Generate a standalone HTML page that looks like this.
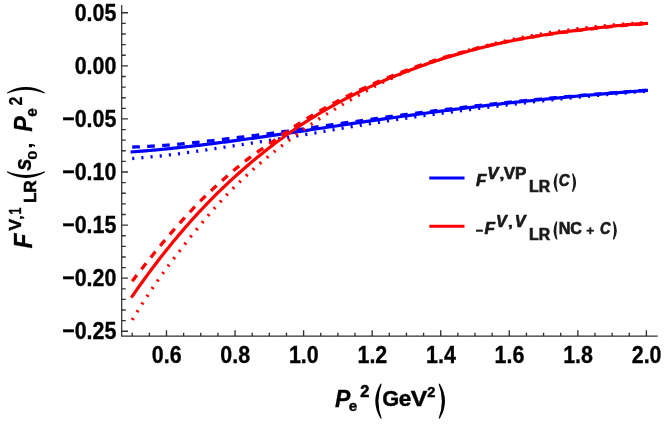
<!DOCTYPE html>
<html><head><meta charset="utf-8"><title>plot</title>
<style>
html,body{margin:0;padding:0;background:#fff;}
svg{display:block;will-change:transform;font-family:"Liberation Sans",sans-serif;font-weight:bold;}
.tl text{font-size:24.2px;fill:#000;stroke:#000;stroke-width:0.35px;}
</style></head>
<body>
<svg width="664" height="428" viewBox="0 0 664 428">
<rect width="664" height="428" fill="#fff"/>
<g fill="none" stroke-linejoin="round">
<path d="M132.20 151.87 L133.91 151.75 L135.63 151.62 L137.34 151.49 L139.06 151.35 L140.77 151.22 L142.48 151.08 L144.20 150.94 L145.91 150.79 L147.63 150.65 L149.34 150.50 L151.05 150.35 L152.77 150.20 L154.48 150.04 L156.20 149.88 L157.91 149.72 L159.62 149.56 L161.34 149.40 L163.05 149.23 L164.77 149.06 L166.48 148.89 L168.19 148.72 L169.91 148.54 L171.62 148.37 L173.34 148.19 L175.05 148.01 L176.76 147.82 L178.48 147.64 L180.19 147.45 L181.91 147.27 L183.62 147.08 L185.33 146.88 L187.05 146.69 L188.76 146.49 L190.48 146.30 L192.19 146.10 L193.90 145.90 L195.62 145.70 L197.33 145.49 L199.05 145.29 L200.76 145.08 L202.47 144.87 L204.19 144.66 L205.90 144.45 L207.62 144.24 L209.33 144.03 L211.04 143.81 L212.76 143.59 L214.47 143.38 L216.19 143.16 L217.90 142.94 L219.61 142.71 L221.33 142.49 L223.04 142.27 L224.76 142.04 L226.47 141.81 L228.18 141.59 L229.90 141.36 L231.61 141.13 L233.33 140.90 L235.04 140.67 L236.75 140.43 L238.47 140.20 L240.18 139.96 L241.90 139.73 L243.61 139.49 L245.32 139.25 L247.04 139.02 L248.75 138.78 L250.47 138.54 L252.18 138.30 L253.89 138.06 L255.61 137.81 L257.32 137.57 L259.04 137.33 L260.75 137.08 L262.46 136.84 L264.18 136.59 L265.89 136.34 L267.61 136.10 L269.32 135.85 L271.03 135.60 L272.75 135.35 L274.46 135.10 L276.18 134.86 L277.89 134.61 L279.60 134.35 L281.32 134.10 L283.03 133.85 L284.75 133.60 L286.46 133.35 L288.17 133.10 L289.89 132.84 L291.60 132.59 L293.32 132.34 L295.03 132.08 L296.74 131.83 L298.46 131.58 L300.17 131.32 L301.89 131.07 L303.60 130.81 L305.31 130.56 L307.03 130.30 L308.74 130.05 L310.46 129.79 L312.17 129.54 L313.88 129.28 L315.60 129.03 L317.31 128.77 L319.03 128.52 L320.74 128.26 L322.45 128.00 L324.17 127.75 L325.88 127.49 L327.60 127.24 L329.31 126.98 L331.02 126.73 L332.74 126.47 L334.45 126.22 L336.17 125.96 L337.88 125.71 L339.59 125.45 L341.31 125.20 L343.02 124.94 L344.74 124.69 L346.45 124.44 L348.16 124.18 L349.88 123.93 L351.59 123.68 L353.31 123.42 L355.02 123.17 L356.73 122.92 L358.45 122.67 L360.16 122.42 L361.88 122.17 L363.59 121.91 L365.30 121.66 L367.02 121.41 L368.73 121.16 L370.45 120.92 L372.16 120.67 L373.87 120.42 L375.59 120.17 L377.30 119.92 L379.02 119.68 L380.73 119.43 L382.44 119.18 L384.16 118.94 L385.87 118.69 L387.59 118.45 L389.30 118.20 L391.01 117.96 L392.73 117.72 L394.44 117.48 L396.16 117.23 L397.87 116.99 L399.58 116.75 L401.30 116.51 L403.01 116.27 L404.73 116.03 L406.44 115.80 L408.15 115.56 L409.87 115.32 L411.58 115.09 L413.30 114.85 L415.01 114.62 L416.72 114.38 L418.44 114.15 L420.15 113.92 L421.87 113.68 L423.58 113.45 L425.29 113.22 L427.01 112.99 L428.72 112.76 L430.44 112.53 L432.15 112.31 L433.86 112.08 L435.58 111.85 L437.29 111.63 L439.01 111.40 L440.72 111.18 L442.43 110.96 L444.15 110.74 L445.86 110.51 L447.58 110.29 L449.29 110.07 L451.00 109.85 L452.72 109.64 L454.43 109.42 L456.15 109.20 L457.86 108.99 L459.57 108.77 L461.29 108.56 L463.00 108.35 L464.72 108.13 L466.43 107.92 L468.14 107.71 L469.86 107.50 L471.57 107.29 L473.29 107.08 L475.00 106.88 L476.71 106.67 L478.43 106.47 L480.14 106.26 L481.86 106.06 L483.57 105.85 L485.28 105.65 L487.00 105.45 L488.71 105.25 L490.43 105.05 L492.14 104.85 L493.85 104.66 L495.57 104.46 L497.28 104.27 L499.00 104.07 L500.71 103.88 L502.42 103.68 L504.14 103.49 L505.85 103.30 L507.57 103.11 L509.28 102.92 L510.99 102.73 L512.71 102.55 L514.42 102.36 L516.14 102.17 L517.85 101.99 L519.56 101.81 L521.28 101.62 L522.99 101.44 L524.71 101.26 L526.42 101.08 L528.13 100.90 L529.85 100.72 L531.56 100.54 L533.28 100.37 L534.99 100.19 L536.70 100.02 L538.42 99.84 L540.13 99.67 L541.85 99.50 L543.56 99.33 L545.27 99.15 L546.99 98.98 L548.70 98.82 L550.42 98.65 L552.13 98.48 L553.84 98.31 L555.56 98.15 L557.27 97.98 L558.99 97.82 L560.70 97.66 L562.41 97.50 L564.13 97.34 L565.84 97.17 L567.56 97.02 L569.27 96.86 L570.98 96.70 L572.70 96.54 L574.41 96.38 L576.13 96.23 L577.84 96.07 L579.55 95.92 L581.27 95.77 L582.98 95.61 L584.70 95.46 L586.41 95.31 L588.12 95.16 L589.84 95.01 L591.55 94.86 L593.27 94.72 L594.98 94.57 L596.69 94.42 L598.41 94.28 L600.12 94.13 L601.84 93.99 L603.55 93.84 L605.26 93.70 L606.98 93.56 L608.69 93.41 L610.41 93.27 L612.12 93.13 L613.83 92.99 L615.55 92.85 L617.26 92.71 L618.98 92.58 L620.69 92.44 L622.40 92.30 L624.12 92.17 L625.83 92.03 L627.55 91.89 L629.26 91.76 L630.97 91.63 L632.69 91.49 L634.40 91.36 L636.12 91.23 L637.83 91.09 L639.54 90.96 L641.26 90.83 L642.97 90.70 L644.69 90.57 L646.40 90.44" stroke="#0000ff" stroke-width="3.2" stroke-linecap="square"/>
<path d="M132.20 147.05 L133.91 146.99 L135.63 146.92 L137.34 146.86 L139.06 146.78 L140.77 146.71 L142.48 146.63 L144.20 146.55 L145.91 146.46 L147.63 146.37 L149.34 146.28 L151.05 146.18 L152.77 146.09 L154.48 145.99 L156.20 145.89 L157.91 145.78 L159.62 145.68 L161.34 145.57 L163.05 145.45 L164.77 145.33 L166.48 145.21 L168.19 145.08 L169.91 144.94 L171.62 144.80 L173.34 144.66 L175.05 144.51 L176.76 144.36 L178.48 144.20 L180.19 144.04 L181.91 143.88 L183.62 143.72 L185.33 143.55 L187.05 143.38 L188.76 143.21 L190.48 143.04 L192.19 142.86 L193.90 142.68 L195.62 142.50 L197.33 142.32 L199.05 142.13 L200.76 141.95 L202.47 141.76 L204.19 141.56 L205.90 141.37 L207.62 141.17 L209.33 140.97 L211.04 140.77 L212.76 140.57 L214.47 140.37 L216.19 140.17 L217.90 139.96 L219.61 139.76 L221.33 139.55 L223.04 139.34 L224.76 139.14 L226.47 138.93 L228.18 138.72 L229.90 138.52 L231.61 138.31 L233.33 138.10 L235.04 137.89 L236.75 137.68 L238.47 137.47 L240.18 137.26 L241.90 137.05 L243.61 136.84 L245.32 136.62 L247.04 136.41 L248.75 136.19 L250.47 135.98 L252.18 135.76 L253.89 135.54 L255.61 135.32 L257.32 135.10 L259.04 134.88 L260.75 134.66 L262.46 134.44 L264.18 134.22 L265.89 134.00 L267.61 133.78 L269.32 133.55 L271.03 133.33 L272.75 133.11 L274.46 132.88 L276.18 132.65 L277.89 132.43 L279.60 132.20 L281.32 131.97 L283.03 131.73 L284.75 131.50 L286.46 131.26 L288.17 131.03 L289.89 130.79 L291.60 130.55 L293.32 130.31 L295.03 130.08 L296.74 129.84 L298.46 129.60 L300.17 129.36 L301.89 129.11 L303.60 128.87 L305.31 128.63 L307.03 128.39 L308.74 128.15 L310.46 127.90 L312.17 127.66 L313.88 127.41 L315.60 127.17 L317.31 126.93 L319.03 126.68 L320.74 126.44 L322.45 126.19 L324.17 125.94 L325.88 125.70 L327.60 125.45 L329.31 125.21 L331.02 124.96 L332.74 124.71 L334.45 124.46 L336.17 124.22 L337.88 123.97 L339.59 123.72 L341.31 123.48 L343.02 123.23 L344.74 122.98 L346.45 122.73 L348.16 122.49 L349.88 122.24 L351.59 121.99 L353.31 121.75 L355.02 121.50 L356.73 121.26 L358.45 121.01 L360.16 120.77 L361.88 120.53 L363.59 120.28 L365.30 120.04 L367.02 119.80 L368.73 119.56 L370.45 119.32 L372.16 119.08 L373.87 118.84 L375.59 118.60 L377.30 118.37 L379.02 118.13 L380.73 117.89 L382.44 117.66 L384.16 117.43 L385.87 117.19 L387.59 116.96 L389.30 116.73 L391.01 116.50 L392.73 116.27 L394.44 116.04 L396.16 115.81 L397.87 115.58 L399.58 115.35 L401.30 115.12 L403.01 114.90 L404.73 114.67 L406.44 114.44 L408.15 114.22 L409.87 114.00 L411.58 113.77 L413.30 113.55 L415.01 113.33 L416.72 113.11 L418.44 112.89 L420.15 112.67 L421.87 112.45 L423.58 112.24 L425.29 112.02 L427.01 111.80 L428.72 111.59 L430.44 111.37 L432.15 111.16 L433.86 110.94 L435.58 110.73 L437.29 110.51 L439.01 110.30 L440.72 110.08 L442.43 109.87 L444.15 109.66 L445.86 109.45 L447.58 109.24 L449.29 109.02 L451.00 108.81 L452.72 108.61 L454.43 108.40 L456.15 108.19 L457.86 107.98 L459.57 107.77 L461.29 107.57 L463.00 107.36 L464.72 107.16 L466.43 106.95 L468.14 106.75 L469.86 106.55 L471.57 106.35 L473.29 106.15 L475.00 105.95 L476.71 105.75 L478.43 105.56 L480.14 105.36 L481.86 105.17 L483.57 104.97 L485.28 104.78 L487.00 104.59 L488.71 104.40 L490.43 104.21 L492.14 104.02 L493.85 103.84 L495.57 103.65 L497.28 103.46 L499.00 103.28 L500.71 103.10 L502.42 102.91 L504.14 102.73 L505.85 102.55 L507.57 102.37 L509.28 102.19 L510.99 102.02 L512.71 101.84 L514.42 101.66 L516.14 101.49 L517.85 101.31 L519.56 101.14 L521.28 100.97 L522.99 100.80 L524.71 100.63 L526.42 100.46 L528.13 100.29 L529.85 100.12 L531.56 99.95 L533.28 99.78 L534.99 99.62 L536.70 99.45 L538.42 99.29 L540.13 99.12 L541.85 98.96 L543.56 98.80 L545.27 98.63 L546.99 98.47 L548.70 98.31 L550.42 98.15 L552.13 97.99 L553.84 97.83 L555.56 97.67 L557.27 97.52 L558.99 97.36 L560.70 97.20 L562.41 97.05 L564.13 96.90 L565.84 96.74 L567.56 96.59 L569.27 96.44 L570.98 96.29 L572.70 96.14 L574.41 95.99 L576.13 95.84 L577.84 95.69 L579.55 95.54 L581.27 95.40 L582.98 95.25 L584.70 95.11 L586.41 94.96 L588.12 94.82 L589.84 94.67 L591.55 94.53 L593.27 94.39 L594.98 94.25 L596.69 94.11 L598.41 93.97 L600.12 93.83 L601.84 93.69 L603.55 93.55 L605.26 93.41 L606.98 93.27 L608.69 93.14 L610.41 93.00 L612.12 92.86 L613.83 92.73 L615.55 92.59 L617.26 92.46 L618.98 92.32 L620.69 92.19 L622.40 92.06 L624.12 91.92 L625.83 91.79 L627.55 91.66 L629.26 91.53 L630.97 91.40 L632.69 91.27 L634.40 91.14 L636.12 91.01 L637.83 90.88 L639.54 90.75 L641.26 90.62 L642.97 90.49 L644.69 90.36 L646.40 90.23" stroke="#0000ff" stroke-width="3.3" stroke-dasharray="7.6 7.4"/>
<path d="M132.20 158.56 L133.91 158.43 L135.63 158.29 L137.34 158.15 L139.06 158.00 L140.77 157.85 L142.48 157.70 L144.20 157.54 L145.91 157.38 L147.63 157.22 L149.34 157.06 L151.05 156.89 L152.77 156.71 L154.48 156.54 L156.20 156.36 L157.91 156.18 L159.62 156.00 L161.34 155.81 L163.05 155.62 L164.77 155.43 L166.48 155.24 L168.19 155.04 L169.91 154.84 L171.62 154.64 L173.34 154.44 L175.05 154.23 L176.76 154.01 L178.48 153.79 L180.19 153.57 L181.91 153.35 L183.62 153.12 L185.33 152.89 L187.05 152.65 L188.76 152.42 L190.48 152.18 L192.19 151.94 L193.90 151.70 L195.62 151.45 L197.33 151.21 L199.05 150.96 L200.76 150.72 L202.47 150.47 L204.19 150.22 L205.90 149.97 L207.62 149.73 L209.33 149.48 L211.04 149.23 L212.76 148.98 L214.47 148.73 L216.19 148.47 L217.90 148.22 L219.61 147.96 L221.33 147.70 L223.04 147.45 L224.76 147.19 L226.47 146.93 L228.18 146.67 L229.90 146.41 L231.61 146.15 L233.33 145.88 L235.04 145.62 L236.75 145.36 L238.47 145.10 L240.18 144.84 L241.90 144.57 L243.61 144.31 L245.32 144.05 L247.04 143.79 L248.75 143.53 L250.47 143.27 L252.18 143.01 L253.89 142.74 L255.61 142.48 L257.32 142.22 L259.04 141.96 L260.75 141.70 L262.46 141.44 L264.18 141.17 L265.89 140.91 L267.61 140.64 L269.32 140.38 L271.03 140.11 L272.75 139.84 L274.46 139.58 L276.18 139.31 L277.89 139.03 L279.60 138.76 L281.32 138.49 L283.03 138.21 L284.75 137.93 L286.46 137.65 L288.17 137.37 L289.89 137.09 L291.60 136.81 L293.32 136.53 L295.03 136.25 L296.74 135.96 L298.46 135.68 L300.17 135.39 L301.89 135.11 L303.60 134.82 L305.31 134.53 L307.03 134.25 L308.74 133.96 L310.46 133.67 L312.17 133.38 L313.88 133.09 L315.60 132.81 L317.31 132.52 L319.03 132.23 L320.74 131.94 L322.45 131.65 L324.17 131.36 L325.88 131.08 L327.60 130.79 L329.31 130.50 L331.02 130.21 L332.74 129.92 L334.45 129.63 L336.17 129.33 L337.88 129.04 L339.59 128.75 L341.31 128.46 L343.02 128.17 L344.74 127.88 L346.45 127.59 L348.16 127.30 L349.88 127.01 L351.59 126.72 L353.31 126.44 L355.02 126.16 L356.73 125.87 L358.45 125.59 L360.16 125.31 L361.88 125.04 L363.59 124.76 L365.30 124.48 L367.02 124.21 L368.73 123.93 L370.45 123.66 L372.16 123.38 L373.87 123.11 L375.59 122.84 L377.30 122.57 L379.02 122.30 L380.73 122.03 L382.44 121.76 L384.16 121.49 L385.87 121.23 L387.59 120.96 L389.30 120.70 L391.01 120.44 L392.73 120.18 L394.44 119.92 L396.16 119.66 L397.87 119.41 L399.58 119.16 L401.30 118.90 L403.01 118.65 L404.73 118.40 L406.44 118.15 L408.15 117.91 L409.87 117.66 L411.58 117.42 L413.30 117.17 L415.01 116.93 L416.72 116.69 L418.44 116.44 L420.15 116.20 L421.87 115.96 L423.58 115.73 L425.29 115.49 L427.01 115.25 L428.72 115.01 L430.44 114.78 L432.15 114.54 L433.86 114.31 L435.58 114.08 L437.29 113.84 L439.01 113.61 L440.72 113.38 L442.43 113.15 L444.15 112.91 L445.86 112.69 L447.58 112.46 L449.29 112.23 L451.00 112.00 L452.72 111.78 L454.43 111.55 L456.15 111.33 L457.86 111.10 L459.57 110.88 L461.29 110.66 L463.00 110.44 L464.72 110.22 L466.43 110.00 L468.14 109.78 L469.86 109.56 L471.57 109.34 L473.29 109.12 L475.00 108.91 L476.71 108.69 L478.43 108.48 L480.14 108.26 L481.86 108.05 L483.57 107.83 L485.28 107.62 L487.00 107.41 L488.71 107.19 L490.43 106.98 L492.14 106.77 L493.85 106.56 L495.57 106.35 L497.28 106.14 L499.00 105.93 L500.71 105.72 L502.42 105.51 L504.14 105.31 L505.85 105.10 L507.57 104.89 L509.28 104.69 L510.99 104.48 L512.71 104.28 L514.42 104.08 L516.14 103.88 L517.85 103.68 L519.56 103.48 L521.28 103.28 L522.99 103.08 L524.71 102.88 L526.42 102.69 L528.13 102.49 L529.85 102.30 L531.56 102.10 L533.28 101.91 L534.99 101.72 L536.70 101.53 L538.42 101.34 L540.13 101.15 L541.85 100.96 L543.56 100.78 L545.27 100.59 L546.99 100.41 L548.70 100.23 L550.42 100.04 L552.13 99.86 L553.84 99.68 L555.56 99.51 L557.27 99.33 L558.99 99.15 L560.70 98.97 L562.41 98.80 L564.13 98.62 L565.84 98.45 L567.56 98.27 L569.27 98.10 L570.98 97.93 L572.70 97.76 L574.41 97.59 L576.13 97.42 L577.84 97.25 L579.55 97.08 L581.27 96.92 L582.98 96.75 L584.70 96.59 L586.41 96.42 L588.12 96.26 L589.84 96.10 L591.55 95.93 L593.27 95.77 L594.98 95.61 L596.69 95.46 L598.41 95.30 L600.12 95.14 L601.84 94.99 L603.55 94.83 L605.26 94.68 L606.98 94.52 L608.69 94.37 L610.41 94.22 L612.12 94.07 L613.83 93.92 L615.55 93.77 L617.26 93.63 L618.98 93.48 L620.69 93.34 L622.40 93.19 L624.12 93.05 L625.83 92.91 L627.55 92.76 L629.26 92.62 L630.97 92.48 L632.69 92.34 L634.40 92.20 L636.12 92.06 L637.83 91.93 L639.54 91.79 L641.26 91.65 L642.97 91.52 L644.69 91.38 L646.40 91.25" stroke="#0000ff" stroke-width="3.3" stroke-dasharray="2.1 7.1"/>
<path d="M132.20 296.32 L133.91 293.81 L135.63 291.33 L137.34 288.88 L139.06 286.46 L140.77 284.06 L142.48 281.69 L144.20 279.33 L145.91 276.99 L147.63 274.66 L149.34 272.35 L151.05 270.04 L152.77 267.75 L154.48 265.48 L156.20 263.22 L157.91 260.98 L159.62 258.76 L161.34 256.55 L163.05 254.37 L164.77 252.19 L166.48 250.04 L168.19 247.90 L169.91 245.77 L171.62 243.67 L173.34 241.58 L175.05 239.50 L176.76 237.44 L178.48 235.40 L180.19 233.38 L181.91 231.37 L183.62 229.37 L185.33 227.40 L187.05 225.43 L188.76 223.49 L190.48 221.56 L192.19 219.64 L193.90 217.74 L195.62 215.86 L197.33 213.99 L199.05 212.14 L200.76 210.30 L202.47 208.48 L204.19 206.67 L205.90 204.88 L207.62 203.10 L209.33 201.34 L211.04 199.59 L212.76 197.86 L214.47 196.14 L216.19 194.44 L217.90 192.74 L219.61 191.07 L221.33 189.40 L223.04 187.75 L224.76 186.11 L226.47 184.49 L228.18 182.88 L229.90 181.28 L231.61 179.69 L233.33 178.12 L235.04 176.56 L236.75 175.01 L238.47 173.47 L240.18 171.95 L241.90 170.43 L243.61 168.93 L245.32 167.44 L247.04 165.96 L248.75 164.49 L250.47 163.03 L252.18 161.59 L253.89 160.15 L255.61 158.73 L257.32 157.32 L259.04 155.92 L260.75 154.53 L262.46 153.15 L264.18 151.78 L265.89 150.43 L267.61 149.08 L269.32 147.75 L271.03 146.43 L272.75 145.11 L274.46 143.81 L276.18 142.52 L277.89 141.24 L279.60 139.97 L281.32 138.72 L283.03 137.47 L284.75 136.23 L286.46 135.01 L288.17 133.79 L289.89 132.59 L291.60 131.39 L293.32 130.21 L295.03 129.03 L296.74 127.87 L298.46 126.72 L300.17 125.57 L301.89 124.44 L303.60 123.32 L305.31 122.21 L307.03 121.11 L308.74 120.02 L310.46 118.94 L312.17 117.87 L313.88 116.81 L315.60 115.76 L317.31 114.72 L319.03 113.69 L320.74 112.67 L322.45 111.66 L324.17 110.66 L325.88 109.66 L327.60 108.67 L329.31 107.70 L331.02 106.73 L332.74 105.77 L334.45 104.81 L336.17 103.87 L337.88 102.93 L339.59 102.00 L341.31 101.08 L343.02 100.17 L344.74 99.26 L346.45 98.36 L348.16 97.48 L349.88 96.59 L351.59 95.72 L353.31 94.86 L355.02 94.00 L356.73 93.15 L358.45 92.31 L360.16 91.48 L361.88 90.65 L363.59 89.83 L365.30 89.02 L367.02 88.22 L368.73 87.42 L370.45 86.64 L372.16 85.85 L373.87 85.08 L375.59 84.31 L377.30 83.55 L379.02 82.80 L380.73 82.05 L382.44 81.31 L384.16 80.57 L385.87 79.84 L387.59 79.12 L389.30 78.40 L391.01 77.68 L392.73 76.97 L394.44 76.27 L396.16 75.57 L397.87 74.88 L399.58 74.19 L401.30 73.51 L403.01 72.83 L404.73 72.16 L406.44 71.50 L408.15 70.84 L409.87 70.18 L411.58 69.54 L413.30 68.89 L415.01 68.26 L416.72 67.62 L418.44 67.00 L420.15 66.38 L421.87 65.76 L423.58 65.15 L425.29 64.55 L427.01 63.96 L428.72 63.36 L430.44 62.78 L432.15 62.20 L433.86 61.63 L435.58 61.06 L437.29 60.49 L439.01 59.94 L440.72 59.38 L442.43 58.84 L444.15 58.29 L445.86 57.75 L447.58 57.22 L449.29 56.69 L451.00 56.17 L452.72 55.65 L454.43 55.14 L456.15 54.63 L457.86 54.13 L459.57 53.63 L461.29 53.14 L463.00 52.65 L464.72 52.17 L466.43 51.69 L468.14 51.22 L469.86 50.75 L471.57 50.29 L473.29 49.83 L475.00 49.38 L476.71 48.93 L478.43 48.49 L480.14 48.05 L481.86 47.61 L483.57 47.19 L485.28 46.76 L487.00 46.34 L488.71 45.93 L490.43 45.52 L492.14 45.11 L493.85 44.71 L495.57 44.31 L497.28 43.92 L499.00 43.53 L500.71 43.15 L502.42 42.77 L504.14 42.40 L505.85 42.03 L507.57 41.66 L509.28 41.30 L510.99 40.95 L512.71 40.60 L514.42 40.25 L516.14 39.91 L517.85 39.57 L519.56 39.24 L521.28 38.91 L522.99 38.59 L524.71 38.27 L526.42 37.95 L528.13 37.64 L529.85 37.33 L531.56 37.03 L533.28 36.73 L534.99 36.43 L536.70 36.14 L538.42 35.85 L540.13 35.57 L541.85 35.29 L543.56 35.01 L545.27 34.74 L546.99 34.47 L548.70 34.21 L550.42 33.94 L552.13 33.68 L553.84 33.43 L555.56 33.18 L557.27 32.93 L558.99 32.68 L560.70 32.44 L562.41 32.20 L564.13 31.97 L565.84 31.73 L567.56 31.50 L569.27 31.28 L570.98 31.05 L572.70 30.83 L574.41 30.61 L576.13 30.40 L577.84 30.18 L579.55 29.97 L581.27 29.77 L582.98 29.56 L584.70 29.35 L586.41 29.14 L588.12 28.93 L589.84 28.73 L591.55 28.52 L593.27 28.32 L594.98 28.11 L596.69 27.91 L598.41 27.71 L600.12 27.51 L601.84 27.31 L603.55 27.12 L605.26 26.92 L606.98 26.73 L608.69 26.54 L610.41 26.36 L612.12 26.18 L613.83 26.00 L615.55 25.82 L617.26 25.65 L618.98 25.48 L620.69 25.32 L622.40 25.16 L624.12 25.01 L625.83 24.86 L627.55 24.71 L629.26 24.57 L630.97 24.43 L632.69 24.31 L634.40 24.18 L636.12 24.06 L637.83 23.95 L639.54 23.85 L641.26 23.75 L642.97 23.65 L644.69 23.56 L646.40 23.46" stroke="#ff0000" stroke-width="3.2" stroke-linecap="square"/>
<path d="M132.20 281.16 L133.91 278.90 L135.63 276.67 L137.34 274.46 L139.06 272.27 L140.77 270.09 L142.48 267.92 L144.20 265.75 L145.91 263.59 L147.63 261.43 L149.34 259.27 L151.05 257.11 L152.77 254.96 L154.48 252.83 L156.20 250.71 L157.91 248.61 L159.62 246.53 L161.34 244.47 L163.05 242.43 L164.77 240.40 L166.48 238.39 L168.19 236.39 L169.91 234.40 L171.62 232.41 L173.34 230.43 L175.05 228.46 L176.76 226.50 L178.48 224.55 L180.19 222.61 L181.91 220.69 L183.62 218.79 L185.33 216.90 L187.05 215.02 L188.76 213.17 L190.48 211.33 L192.19 209.51 L193.90 207.70 L195.62 205.91 L197.33 204.13 L199.05 202.38 L200.76 200.65 L202.47 198.95 L204.19 197.27 L205.90 195.61 L207.62 193.96 L209.33 192.34 L211.04 190.72 L212.76 189.12 L214.47 187.52 L216.19 185.94 L217.90 184.38 L219.61 182.82 L221.33 181.28 L223.04 179.76 L224.76 178.24 L226.47 176.73 L228.18 175.23 L229.90 173.74 L231.61 172.26 L233.33 170.80 L235.04 169.35 L236.75 167.91 L238.47 166.49 L240.18 165.09 L241.90 163.70 L243.61 162.33 L245.32 160.98 L247.04 159.65 L248.75 158.36 L250.47 157.09 L252.18 155.84 L253.89 154.60 L255.61 153.37 L257.32 152.15 L259.04 150.95 L260.75 149.76 L262.46 148.58 L264.18 147.40 L265.89 146.23 L267.61 145.05 L269.32 143.86 L271.03 142.69 L272.75 141.52 L274.46 140.36 L276.18 139.19 L277.89 138.02 L279.60 136.83 L281.32 135.62 L283.03 134.41 L284.75 133.21 L286.46 132.00 L288.17 130.81 L289.89 129.62 L291.60 128.45 L293.32 127.29 L295.03 126.15 L296.74 125.03 L298.46 123.92 L300.17 122.82 L301.89 121.74 L303.60 120.66 L305.31 119.60 L307.03 118.54 L308.74 117.49 L310.46 116.44 L312.17 115.41 L313.88 114.39 L315.60 113.38 L317.31 112.38 L319.03 111.39 L320.74 110.40 L322.45 109.43 L324.17 108.46 L325.88 107.50 L327.60 106.54 L329.31 105.60 L331.02 104.66 L332.74 103.73 L334.45 102.80 L336.17 101.89 L337.88 100.97 L339.59 100.07 L341.31 99.17 L343.02 98.29 L344.74 97.40 L346.45 96.53 L348.16 95.67 L349.88 94.81 L351.59 93.96 L353.31 93.11 L355.02 92.28 L356.73 91.45 L358.45 90.63 L360.16 89.82 L361.88 89.01 L363.59 88.21 L365.30 87.42 L367.02 86.64 L368.73 85.86 L370.45 85.09 L372.16 84.32 L373.87 83.57 L375.59 82.82 L377.30 82.08 L379.02 81.34 L380.73 80.61 L382.44 79.88 L384.16 79.16 L385.87 78.45 L387.59 77.74 L389.30 77.03 L391.01 76.33 L392.73 75.64 L394.44 74.95 L396.16 74.27 L397.87 73.59 L399.58 72.92 L401.30 72.25 L403.01 71.59 L404.73 70.93 L406.44 70.28 L408.15 69.63 L409.87 68.99 L411.58 68.36 L413.30 67.73 L415.01 67.11 L416.72 66.49 L418.44 65.88 L420.15 65.28 L421.87 64.68 L423.58 64.09 L425.29 63.50 L427.01 62.92 L428.72 62.35 L430.44 61.78 L432.15 61.22 L433.86 60.66 L435.58 60.11 L437.29 59.57 L439.01 59.03 L440.72 58.49 L442.43 57.96 L444.15 57.43 L445.86 56.91 L447.58 56.40 L449.29 55.89 L451.00 55.38 L452.72 54.88 L454.43 54.39 L456.15 53.90 L457.86 53.41 L459.57 52.93 L461.29 52.45 L463.00 51.98 L464.72 51.52 L466.43 51.06 L468.14 50.60 L469.86 50.15 L471.57 49.71 L473.29 49.27 L475.00 48.83 L476.71 48.40 L478.43 47.97 L480.14 47.55 L481.86 47.14 L483.57 46.72 L485.28 46.32 L487.00 45.91 L488.71 45.52 L490.43 45.12 L492.14 44.73 L493.85 44.35 L495.57 43.97 L497.28 43.59 L499.00 43.22 L500.71 42.86 L502.42 42.49 L504.14 42.14 L505.85 41.79 L507.57 41.44 L509.28 41.10 L510.99 40.76 L512.71 40.43 L514.42 40.10 L516.14 39.78 L517.85 39.46 L519.56 39.15 L521.28 38.84 L522.99 38.54 L524.71 38.23 L526.42 37.94 L528.13 37.64 L529.85 37.36 L531.56 37.07 L533.28 36.79 L534.99 36.51 L536.70 36.23 L538.42 35.96 L540.13 35.69 L541.85 35.43 L543.56 35.17 L545.27 34.91 L546.99 34.65 L548.70 34.40 L550.42 34.15 L552.13 33.90 L553.84 33.65 L555.56 33.41 L557.27 33.17 L558.99 32.93 L560.70 32.69 L562.41 32.46 L564.13 32.23 L565.84 32.00 L567.56 31.78 L569.27 31.55 L570.98 31.33 L572.70 31.12 L574.41 30.90 L576.13 30.69 L577.84 30.48 L579.55 30.28 L581.27 30.07 L582.98 29.87 L584.70 29.67 L586.41 29.46 L588.12 29.26 L589.84 29.06 L591.55 28.85 L593.27 28.65 L594.98 28.45 L596.69 28.25 L598.41 28.05 L600.12 27.86 L601.84 27.66 L603.55 27.47 L605.26 27.28 L606.98 27.09 L608.69 26.91 L610.41 26.73 L612.12 26.55 L613.83 26.37 L615.55 26.20 L617.26 26.03 L618.98 25.86 L620.69 25.70 L622.40 25.54 L624.12 25.39 L625.83 25.24 L627.55 25.10 L629.26 24.96 L630.97 24.83 L632.69 24.70 L634.40 24.58 L636.12 24.46 L637.83 24.35 L639.54 24.24 L641.26 24.14 L642.97 24.05 L644.69 23.95 L646.40 23.86" stroke="#ff0000" stroke-width="3.3" stroke-dasharray="7.6 7.4"/>
<path d="M132.20 319.92 L133.91 317.10 L135.63 314.30 L137.34 311.53 L139.06 308.79 L140.77 306.08 L142.48 303.40 L144.20 300.74 L145.91 298.11 L147.63 295.50 L149.34 292.91 L151.05 290.34 L152.77 287.80 L154.48 285.28 L156.20 282.79 L157.91 280.33 L159.62 277.88 L161.34 275.47 L163.05 273.09 L164.77 270.73 L166.48 268.40 L168.19 266.08 L169.91 263.78 L171.62 261.50 L173.34 259.23 L175.05 256.96 L176.76 254.70 L178.48 252.45 L180.19 250.22 L181.91 248.00 L183.62 245.79 L185.33 243.59 L187.05 241.41 L188.76 239.24 L190.48 237.08 L192.19 234.94 L193.90 232.81 L195.62 230.70 L197.33 228.59 L199.05 226.49 L200.76 224.40 L202.47 222.32 L204.19 220.26 L205.90 218.21 L207.62 216.17 L209.33 214.16 L211.04 212.16 L212.76 210.19 L214.47 208.24 L216.19 206.31 L217.90 204.40 L219.61 202.50 L221.33 200.62 L223.04 198.76 L224.76 196.92 L226.47 195.11 L228.18 193.32 L229.90 191.56 L231.61 189.83 L233.33 188.12 L235.04 186.42 L236.75 184.74 L238.47 183.08 L240.18 181.43 L241.90 179.80 L243.61 178.19 L245.32 176.59 L247.04 175.01 L248.75 173.44 L250.47 171.89 L252.18 170.34 L253.89 168.82 L255.61 167.30 L257.32 165.80 L259.04 164.31 L260.75 162.83 L262.46 161.37 L264.18 159.92 L265.89 158.48 L267.61 157.06 L269.32 155.65 L271.03 154.25 L272.75 152.87 L274.46 151.50 L276.18 150.14 L277.89 148.79 L279.60 147.45 L281.32 146.12 L283.03 144.80 L284.75 143.48 L286.46 142.18 L288.17 140.88 L289.89 139.59 L291.60 138.31 L293.32 137.04 L295.03 135.77 L296.74 134.51 L298.46 133.26 L300.17 132.02 L301.89 130.79 L303.60 129.56 L305.31 128.35 L307.03 127.14 L308.74 125.95 L310.46 124.76 L312.17 123.59 L313.88 122.42 L315.60 121.27 L317.31 120.13 L319.03 119.00 L320.74 117.88 L322.45 116.78 L324.17 115.69 L325.88 114.61 L327.60 113.54 L329.31 112.48 L331.02 111.43 L332.74 110.39 L334.45 109.36 L336.17 108.33 L337.88 107.31 L339.59 106.29 L341.31 105.29 L343.02 104.28 L344.74 103.28 L346.45 102.28 L348.16 101.28 L349.88 100.28 L351.59 99.29 L353.31 98.29 L355.02 97.31 L356.73 96.33 L358.45 95.36 L360.16 94.39 L361.88 93.43 L363.59 92.48 L365.30 91.52 L367.02 90.57 L368.73 89.63 L370.45 88.70 L372.16 87.79 L373.87 86.89 L375.59 86.01 L377.30 85.14 L379.02 84.29 L380.73 83.45 L382.44 82.61 L384.16 81.79 L385.87 80.97 L387.59 80.17 L389.30 79.37 L391.01 78.59 L392.73 77.81 L394.44 77.04 L396.16 76.28 L397.87 75.53 L399.58 74.80 L401.30 74.07 L403.01 73.34 L404.73 72.63 L406.44 71.92 L408.15 71.22 L409.87 70.53 L411.58 69.85 L413.30 69.17 L415.01 68.50 L416.72 67.83 L418.44 67.17 L420.15 66.52 L421.87 65.87 L423.58 65.24 L425.29 64.60 L427.01 63.97 L428.72 63.35 L430.44 62.74 L432.15 62.12 L433.86 61.52 L435.58 60.92 L437.29 60.32 L439.01 59.73 L440.72 59.15 L442.43 58.57 L444.15 57.99 L445.86 57.42 L447.58 56.85 L449.29 56.29 L451.00 55.73 L452.72 55.18 L454.43 54.63 L456.15 54.08 L457.86 53.54 L459.57 53.00 L461.29 52.47 L463.00 51.94 L464.72 51.42 L466.43 50.91 L468.14 50.40 L469.86 49.90 L471.57 49.40 L473.29 48.91 L475.00 48.43 L476.71 47.95 L478.43 47.48 L480.14 47.02 L481.86 46.57 L483.57 46.12 L485.28 45.68 L487.00 45.24 L488.71 44.81 L490.43 44.38 L492.14 43.96 L493.85 43.54 L495.57 43.13 L497.28 42.72 L499.00 42.32 L500.71 41.92 L502.42 41.53 L504.14 41.14 L505.85 40.76 L507.57 40.38 L509.28 40.01 L510.99 39.64 L512.71 39.28 L514.42 38.92 L516.14 38.57 L517.85 38.22 L519.56 37.87 L521.28 37.53 L522.99 37.20 L524.71 36.87 L526.42 36.55 L528.13 36.23 L529.85 35.91 L531.56 35.60 L533.28 35.29 L534.99 34.99 L536.70 34.69 L538.42 34.40 L540.13 34.11 L541.85 33.83 L543.56 33.55 L545.27 33.27 L546.99 33.00 L548.70 32.73 L550.42 32.46 L552.13 32.20 L553.84 31.95 L555.56 31.69 L557.27 31.44 L558.99 31.20 L560.70 30.95 L562.41 30.72 L564.13 30.48 L565.84 30.25 L567.56 30.02 L569.27 29.79 L570.98 29.57 L572.70 29.35 L574.41 29.13 L576.13 28.92 L577.84 28.71 L579.55 28.51 L581.27 28.30 L582.98 28.10 L584.70 27.90 L586.41 27.70 L588.12 27.51 L589.84 27.32 L591.55 27.13 L593.27 26.94 L594.98 26.76 L596.69 26.58 L598.41 26.40 L600.12 26.22 L601.84 26.05 L603.55 25.88 L605.26 25.71 L606.98 25.54 L608.69 25.38 L610.41 25.22 L612.12 25.06 L613.83 24.91 L615.55 24.75 L617.26 24.61 L618.98 24.46 L620.69 24.32 L622.40 24.18 L624.12 24.04 L625.83 23.91 L627.55 23.78 L629.26 23.65 L630.97 23.53 L632.69 23.41 L634.40 23.29 L636.12 23.18 L637.83 23.07 L639.54 22.96 L641.26 22.86 L642.97 22.76 L644.69 22.66 L646.40 22.57" stroke="#ff0000" stroke-width="3.3" stroke-dasharray="2.1 7.1"/>
</g>
<g fill="none" stroke="#303030">
<path d="M121.7 5V336.2H657.7" stroke-width="1.25"/>
<path d="M121.70 331.27h6.3M121.70 320.66h4.0M121.70 310.04h4.0M121.70 299.42h4.0M121.70 288.81h4.0M121.70 278.19h6.3M121.70 267.57h4.0M121.70 256.96h4.0M121.70 246.34h4.0M121.70 235.72h4.0M121.70 225.10h6.3M121.70 214.49h4.0M121.70 203.87h4.0M121.70 193.25h4.0M121.70 182.64h4.0M121.70 172.02h6.3M121.70 161.40h4.0M121.70 150.79h4.0M121.70 140.17h4.0M121.70 129.55h4.0M121.70 118.94h6.3M121.70 108.32h4.0M121.70 97.70h4.0M121.70 87.08h4.0M121.70 76.47h4.0M121.70 65.85h6.3M121.70 55.23h4.0M121.70 44.62h4.0M121.70 34.00h4.0M121.70 23.38h4.0M121.70 12.76h6.3M132.20 336.20v-3.4M149.34 336.20v-3.4M166.48 336.20v-6.0M183.62 336.20v-3.4M200.76 336.20v-3.4M217.90 336.20v-3.4M235.04 336.20v-6.0M252.18 336.20v-3.4M269.32 336.20v-3.4M286.46 336.20v-3.4M303.60 336.20v-6.0M320.74 336.20v-3.4M337.88 336.20v-3.4M355.02 336.20v-3.4M372.16 336.20v-6.0M389.30 336.20v-3.4M406.44 336.20v-3.4M423.58 336.20v-3.4M440.72 336.20v-6.0M457.86 336.20v-3.4M475.00 336.20v-3.4M492.14 336.20v-3.4M509.28 336.20v-6.0M526.42 336.20v-3.4M543.56 336.20v-3.4M560.70 336.20v-3.4M577.84 336.20v-6.0M594.98 336.20v-3.4M612.12 336.20v-3.4M629.26 336.20v-3.4M646.40 336.20v-6.0" stroke-width="1.35"/>
</g>
<g class="tl"><text transform="translate(116.35 339.43) scale(0.885 1)" text-anchor="end">−0.25</text><text transform="translate(116.35 286.34) scale(0.885 1)" text-anchor="end">−0.20</text><text transform="translate(116.35 233.25) scale(0.885 1)" text-anchor="end">−0.15</text><text transform="translate(116.35 180.17) scale(0.885 1)" text-anchor="end">−0.10</text><text transform="translate(116.35 127.09) scale(0.885 1)" text-anchor="end">−0.05</text><text transform="translate(116.35 74.00) scale(0.885 1)" text-anchor="end">0.00</text><text transform="translate(116.35 20.91) scale(0.885 1)" text-anchor="end">0.05</text><text transform="translate(166.68 362.6) scale(0.885 1)" text-anchor="middle">0.6</text><text transform="translate(235.24 362.6) scale(0.885 1)" text-anchor="middle">0.8</text><text transform="translate(303.80 362.6) scale(0.885 1)" text-anchor="middle">1.0</text><text transform="translate(372.36 362.6) scale(0.885 1)" text-anchor="middle">1.2</text><text transform="translate(440.92 362.6) scale(0.885 1)" text-anchor="middle">1.4</text><text transform="translate(509.48 362.6) scale(0.885 1)" text-anchor="middle">1.6</text><text transform="translate(578.04 362.6) scale(0.885 1)" text-anchor="middle">1.8</text><text transform="translate(646.60 362.6) scale(0.885 1)" text-anchor="middle">2.0</text></g>
<g fill="none" stroke-width="3">
<path d="M429.3 178H464.5" stroke="#0000ff"/>
<path d="M429.3 226.3H464.5" stroke="#ff0000"/>
</g>
<g fill="#1a1a1a" stroke="#1a1a1a" stroke-width="0"><g stroke-linejoin="round"><text transform="translate(476.10 186.25) scale(1.034 1)" font-size="16.28" font-style="italic" stroke-width="0.70">F</text><text transform="translate(487.25 178.75) scale(1.048 1)" font-size="15.99" font-style="italic" stroke-width="0.70">V</text><text transform="translate(499.17 178.70) scale(1.452 1)" font-size="13.00" stroke-width="0.40">,</text><text transform="translate(503.78 178.75) scale(1.062 1)" font-size="15.99" stroke-width="0.70">VP</text><text transform="translate(529.09 192.25) scale(0.980 1)" font-size="16.13" stroke-width="0.70">LR</text><text transform="translate(558.82 186.09) scale(0.942 1)" font-size="15.96" font-style="italic" stroke-width="0.60">C</text><text transform="translate(475.59 235.82) scale(0.824 1)" font-size="16.46" stroke-width="0.15">−</text><text transform="translate(484.60 234.25) scale(1.054 1)" font-size="16.28" font-style="italic" stroke-width="0.70">F</text><text transform="translate(496.05 226.75) scale(1.010 1)" font-size="15.99" font-style="italic" stroke-width="0.70">V</text><text transform="translate(507.87 226.70) scale(1.452 1)" font-size="13.00" stroke-width="0.40">,</text><text transform="translate(514.80 226.75) scale(1.015 1)" font-size="15.99" font-style="italic" stroke-width="0.70">V</text><text transform="translate(529.09 240.25) scale(0.980 1)" font-size="16.13" stroke-width="0.70">LR</text><text transform="translate(558.67 234.10) scale(1.032 1)" font-size="15.68" stroke-width="0.60">NC</text><text transform="translate(586.32 234.66) scale(1.027 1)" font-size="13.49" stroke-width="0.40">+</text><text transform="translate(599.94 234.10) scale(0.926 1)" font-size="15.68" font-style="italic" stroke-width="0.60">C</text></g><path d="M556.40 173.50Q551.00 182.60 556.40 191.70L557.80 191.70Q555.00 182.60 557.80 173.50ZM573.30 173.50Q578.90 182.60 573.30 191.70L571.90 191.70Q574.90 182.60 571.90 173.50ZM556.00 221.50Q551.20 230.55 556.00 239.60L557.40 239.60Q555.20 230.55 557.40 221.50ZM614.20 221.50Q619.40 230.55 614.20 239.60L612.80 239.60Q615.40 230.55 612.80 221.50Z"/></g>
<g fill="#000" stroke="#000" stroke-width="0"><text transform="translate(334.99 406.60) scale(0.997 1)" font-size="23.18" font-style="italic" stroke-width="0.30">P</text><text transform="translate(348.85 411.11) scale(1.036 1)" font-size="14.79" stroke-width="0.40">e</text><text transform="translate(360.18 397.25) scale(1.035 1)" font-size="15.75" stroke-width="0.60">2</text><text transform="translate(382.36 406.23) scale(0.952 1)" font-size="22.88" stroke-width="0.45">G</text><text transform="translate(398.67 406.23) scale(1.005 1)" font-size="22.45" stroke-width="0.45">e</text><text transform="translate(410.78 406.25) scale(1.094 1)" font-size="22.67" stroke-width="0.45">V</text><text transform="translate(427.35 397.45) scale(0.949 1)" font-size="15.32" stroke-width="0.50">2</text><path d="M380.50 383.70Q370.10 401.10 380.50 418.50L381.70 418.50Q375.10 401.10 381.70 383.70ZM439.80 383.70Q450.20 401.10 439.80 418.50L438.60 418.50Q445.20 401.10 438.60 383.70Z"/></g>
<g fill="#000" stroke="#000" stroke-width="0" transform="translate(31.50 248.30) rotate(-90)"><text transform="translate(-0.28 0.35) scale(0.955 1)" font-size="25.73" font-style="italic" stroke-width="0.30">F</text><text transform="translate(17.58 -10.15) scale(1.031 1)" font-size="17.30" stroke-width="0.45">V</text><text transform="translate(28.31 -9.74) scale(1.243 1)" font-size="13.50" stroke-width="0.30">,</text><text transform="translate(33.76 -10.15) scale(0.721 1)" font-size="17.30" stroke-width="0.40">1</text><text transform="translate(45.64 4.55) scale(0.969 1)" font-size="17.15" stroke-width="0.60">LR</text><text transform="translate(77.45 -0.08) scale(0.964 1)" font-size="23.06" font-style="italic" stroke-width="0.30">s</text><text transform="translate(88.50 5.62) scale(1.249 1)" font-size="13.14" stroke-width="0.20">0</text><text transform="translate(99.48 0.00) scale(1.153 1)" font-size="20.00">,</text><text transform="translate(116.44 0.15) scale(0.928 1)" font-size="25.00" font-style="italic" stroke-width="0.30">P</text><text transform="translate(131.45 5.60) scale(0.976 1)" font-size="15.70" stroke-width="0.30">e</text><text transform="translate(142.90 -9.55) scale(0.896 1)" font-size="17.62" stroke-width="0.30">2</text><path d="M75.80 -24.40Q65.00 -5.55 75.80 13.30L77.00 13.30Q69.40 -5.55 77.00 -24.40ZM155.90 -24.40Q166.70 -5.55 155.90 13.30L154.70 13.30Q162.30 -5.55 154.70 -24.40Z"/></g>
</svg>
</body></html>
